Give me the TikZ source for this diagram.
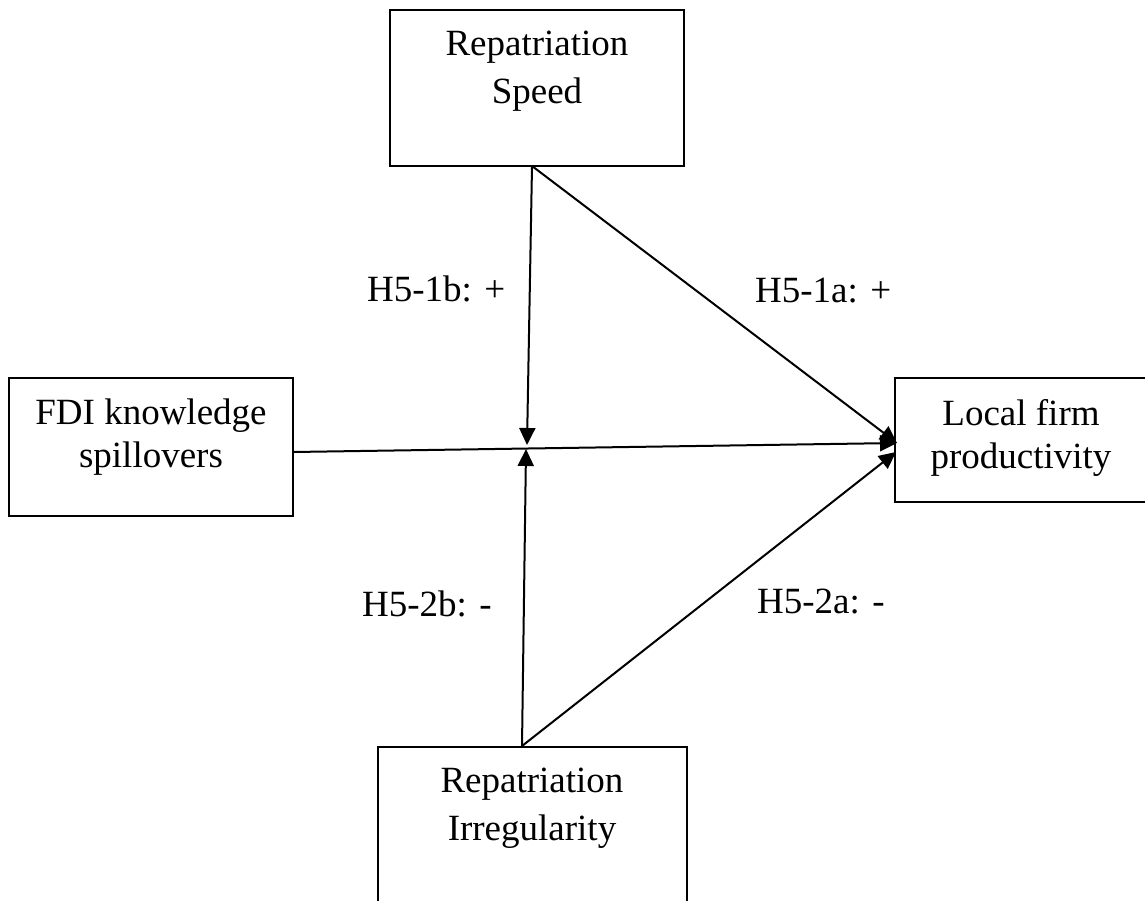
\documentclass[tikz,border=0pt]{standalone}
\usepackage{fontspec}
\setmainfont{Liberation Serif}
\usetikzlibrary{arrows.meta}
\begin{document}
\begin{tikzpicture}[x=1pt,y=-1pt,
  box/.style={draw=black,line width=1.6pt,fill=none},
  txt/.style={font=\fontsize{37}{48}\selectfont,align=center,anchor=base,inner sep=0pt},
  txtb/.style={font=\fontsize{37}{43}\selectfont,align=center,anchor=base,inner sep=0pt},
  hyp/.style={font=\fontsize{37}{44}\selectfont,anchor=base west,inner sep=0pt},
  link/.style={line width=2pt,-{Triangle[length=17pt,width=16pt]}}]
\clip (0,0) rectangle (1145,900);
\useasboundingbox (0,0) rectangle (1145,900);
\fill[white] (0,0) rectangle (1145,900);

% construct boxes
\draw[box] (390,10) rectangle (684,166);
\draw[box] (9,378) rectangle (293,516);
\draw[box] (895,378) rectangle (1150,502);
\draw[box] (378,747) rectangle (687,930);

% box texts (anchored on the baseline of their last line)
\node[txt]  (speed)  at (537,103) {Repatriation\\Speed};
\node[txtb] (fdi)    at (151,467) {FDI knowledge\\spillovers};
\node[txtb] (local)  at (1021,468) {Local firm\\productivity};
\node[txt]  (irreg)  at (532,840) {Repatriation\\Irregularity};

% anchor points on the box edges and the moderation junction
\coordinate (speedout) at (532,166);
\coordinate (irregout) at (522,746);
\coordinate (fdiout)   at (293,452);
\coordinate (localin)  at (897,443);
\coordinate (localin2) at (896,452);
\coordinate (juncdown) at (527,445);
\coordinate (juncup)   at (526,449);

% main effect and moderation paths
\draw[link] (fdiout) -- (localin);
\draw[link] (speedout) -- (juncdown);
\draw[link] (speedout) -- (localin);
\draw[link] (irregout) -- (juncup);
\draw[link] (irregout) -- (localin2);

% hypothesis labels
\node[hyp] (h1b) at (367,301) {H5-1b: +};
\node[hyp] (h1a) at (755,302) {H5-1a: +};
\node[hyp] (h2b) at (362,616) {H5-2b: -};
\node[hyp] (h2a) at (757,613) {H5-2a: -};
\end{tikzpicture}
\end{document}
